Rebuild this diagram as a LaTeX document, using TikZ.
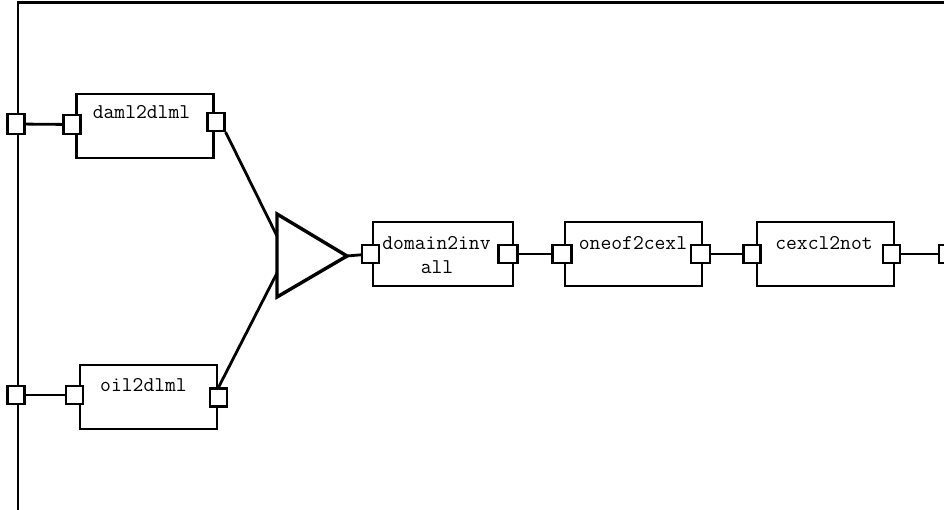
\documentclass[tikz,border=0pt]{standalone}
\begin{document}
\begin{tikzpicture}[x=1pt,y=-1pt,
  frame/.style={line width=2.6pt},
  block/.style={draw,line width=2.5pt,fill=white,rectangle,inner sep=0pt,
    minimum width=137pt,minimum height=64pt},
  port/.style={draw,line width=2.2pt,fill=white,rectangle,inner sep=0pt,
    minimum width=17pt,minimum height=18pt},
  wire/.style={line width=2.8pt},
  merge/.style={line width=3.4pt,line join=miter},
  lbl/.style={anchor=base,inner sep=0pt,font=\ttfamily\fontsize{21}{24}\selectfont}]
\clip (0,0) rectangle (944,510);
\fill[white] (0,0) rectangle (944,510);

% enclosing frame
\draw[frame] (18,520) -- (18,2.5) -- (960,2.5);

% blocks
\node[block] (b1) at (145,126) {};
\node[block] (b2) at (148.5,397) {};
\node[block,minimum width=140pt] (b3) at (443,254) {};
\node[block] (b4) at (633.5,254) {};
\node[block] (b5) at (825.5,254) {};

% block titles
\node[lbl] (t1) at (141.5,119) {daml2dlml};
\node[lbl] (t2) at (143.5,391) {oil2dlml};
\node[lbl] (t3a) at (436.5,250) {domain2inv};
\node[lbl] (t3b) at (437,274) {all};
\node[lbl] (t4) at (633,250) {oneof2cexl};
\node[lbl] (t5) at (824,250) {cexcl2not};

% merge triangle
\coordinate (tt) at (277,214);
\coordinate (tb) at (277,297);
\coordinate (apex) at (347,256);
\coordinate (m1) at (277,236);
\coordinate (m2) at (277,273);
\draw[merge] (tt) -- (apex) -- (tb) -- cycle;

% ports
\node[port,minimum height=20pt] (fp1) at (16,124) {};
\node[port] (fp2) at (16,395) {};
\node[port,minimum height=19pt] (b1in) at (72,124.5) {};
\node[port] (b1out) at (216,122) {};
\node[port] (b2in) at (74.5,395) {};
\node[port] (b2out) at (218.5,397.5) {};
\node[port] (b3in) at (370.5,254) {};
\node[port,minimum width=19pt] (b3out) at (508,254) {};
\node[port,minimum width=19pt] (b4in) at (562,254) {};
\node[port,minimum width=19pt] (b4out) at (700.5,254) {};
\node[port] (b5in) at (752,254) {};
\node[port] (b5out) at (891.5,254) {};
\node[port] (pend) at (947.5,254) {};

% connectors
\draw[wire] (fp1) -- (b1in);
\draw[wire] (fp2) -- (b2in);
\draw[wire] (b1out.south east) -- (m1);
\draw[wire] (b2out.north) -- (m2);
\draw[wire] (apex) -- (b3in);
\draw[wire] (b3out) -- (b4in);
\draw[wire] (b4out) -- (b5in);
\draw[wire] (b5out) -- (pend);
\end{tikzpicture}
\end{document}
